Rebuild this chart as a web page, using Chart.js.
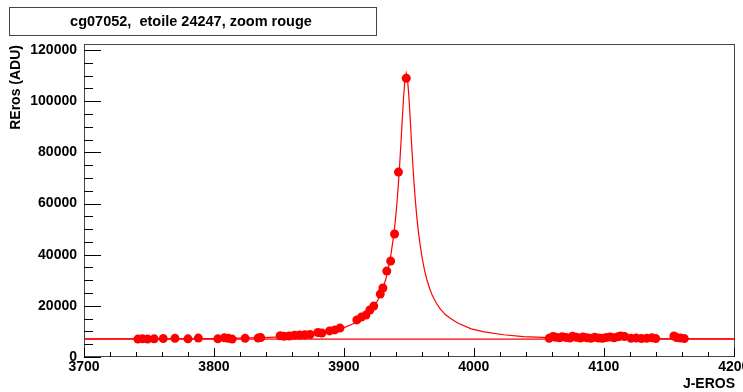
<!DOCTYPE html>
<html>
<head>
<meta charset="utf-8">
<title>cg07052, etoile 24247, zoom rouge</title>
<script src="https://cdn.jsdelivr.net/npm/chart.js@4.4.1/dist/chart.umd.min.js"></script>
<style>
  html, body { margin: 0; padding: 0; background: #fff; }
</style>
</head>
<body>
<canvas id="lightCurve" width="743" height="392"></canvas>
<script>
// observed points (J-EROS, flux in ADU)
const obsDays = [
  3741.5, 3745, 3749, 3754, 3761, 3770, 3780, 3788, 3803, 3808, 3811, 3814,
  3824, 3834, 3836, 3851, 3854, 3858, 3862, 3866, 3870, 3874, 3880, 3883,
  3889, 3893, 3897, 3910, 3913.5, 3917, 3920, 3923, 3928, 3930, 3933, 3936,
  3939, 3942, 3948,
  4058, 4061, 4063, 4066, 4068, 4071, 4074, 4076, 4079, 4082, 4084, 4087,
  4090, 4093, 4096, 4099, 4102, 4105, 4108, 4111, 4113, 4116, 4121, 4125,
  4129, 4133, 4137, 4140, 4154, 4156, 4159, 4162
];
const obsFlux = [
  7000, 7100, 7000, 7100, 7200, 7300, 7100, 7400, 7100, 7500, 7300, 7000,
  7300, 7400, 7600, 8300, 8100, 8200, 8500, 8600, 8700, 8800, 9600, 9400,
  10200, 10600, 11300, 14500, 15600, 16400, 18400, 19900, 24600, 27000, 33600, 37500,
  48100, 72300, 109000,
  7300, 8000, 7700, 7500, 7900, 7600, 7400, 8100, 7700, 7400, 7800, 7500,
  7300, 7700, 7400, 7300, 7600, 7800, 7500, 7900, 8200, 8000, 7300, 7400,
  7200, 7300, 7500, 7200, 8200, 7600, 7400, 7200
];

// fitted curve
const fitDays = [
  3700, 3798, 3838, 3858, 3873, 3888, 3898, 3908, 3913, 3918, 3922, 3925,
  3928, 3930, 3932, 3934, 3936, 3938, 3939, 3940, 3941, 3942, 3943, 3944,
  3945, 3946, 3947, 3948, 3949, 3950, 3951, 3952, 3953, 3954, 3955, 3956,
  3957, 3958, 3960, 3962, 3964, 3966, 3968, 3971, 3974, 3978, 3983, 3988,
  3998, 4008, 4023, 4038, 4058, 4098, 4201
];
const fitFlux = [
  7050, 7200, 7550, 8000, 8700, 9800, 11000, 13200, 14800, 16600, 18900, 21200,
  24100, 26800, 30000, 34100, 39400, 46300, 50500, 55500, 61300, 68000, 75800, 84400,
  93600, 102000, 108500, 111000, 108500, 102000, 93600, 84400, 75800, 68000, 61300, 55500,
  50500, 46300, 39400, 34100, 30000, 26800, 24100, 21200, 18900, 16600, 14800, 13200,
  11000, 9800, 8700, 8000, 7550, 7200, 7050
];

const baseline = 7000;
const xMin = 3700;
const xMax = 4201;
const yMin = 0;
const yMax = 122400;
const xTickLabels = [3700, 3800, 3900, 4000, 4100, 4200];
const yTickLabels = [0, 20000, 40000, 60000, 80000, 100000, 120000];

const titleText = "cg07052,  etoile 24247, zoom rouge";
const boldFont = "bold 14px 'Liberation Sans', Arial, sans-serif";

// ROOT-like frame, inward ticks, labels, title box and axis titles
const rootStyle = {
  id: "rootStyle",
  beforeDraw(chart) {
    const ctx = chart.ctx;
    ctx.save();
    ctx.fillStyle = "#fff";
    ctx.fillRect(0, 0, chart.width, chart.height);
    ctx.restore();
  },
  afterDraw(chart) {
    const { ctx, chartArea: a, scales: { x, y } } = chart;
    ctx.save();

    // frame
    ctx.strokeStyle = "#444";
    ctx.lineWidth = 1;
    ctx.strokeRect(a.left + 0.5, a.top + 0.5, a.right - a.left - 1, a.bottom - a.top - 1);

    // x ticks (every 20, major every 100)
    ctx.strokeStyle = "#000";
    ctx.beginPath();
    for (let v = xMin; v <= xMax; v += 20) {
      const px = Math.round(x.getPixelForValue(v)) + 0.5;
      const len = v % 100 === 0 ? 9 : 5;
      ctx.moveTo(px, a.bottom);
      ctx.lineTo(px, a.bottom - len);
    }
    // y ticks (every 5000, major every 20000)
    for (let v = yMin; v <= yMax; v += 5000) {
      const py = Math.round(y.getPixelForValue(v)) + 0.5;
      const len = v % 20000 === 0 ? 17 : 9;
      ctx.moveTo(a.left, py);
      ctx.lineTo(a.left + len, py);
    }
    ctx.stroke();

    ctx.fillStyle = "#000";
    ctx.font = boldFont;

    // x tick labels
    ctx.textAlign = "center";
    ctx.textBaseline = "top";
    xTickLabels.forEach(v => {
      ctx.fillText(String(v), x.getPixelForValue(v), a.bottom + 3);
    });

    // y tick labels
    ctx.textAlign = "right";
    ctx.textBaseline = "middle";
    yTickLabels.forEach(v => {
      ctx.fillText(String(v), a.left - 7, y.getPixelForValue(v));
    });

    // axis titles
    ctx.textAlign = "right";
    ctx.textBaseline = "alphabetic";
    ctx.fillText("J-EROS", a.right, 388);

    ctx.save();
    ctx.translate(20, a.top + 1);
    ctx.rotate(-Math.PI / 2);
    ctx.textAlign = "right";
    ctx.fillText("REros (ADU)", 0, 0);
    ctx.restore();

    // title box
    ctx.fillStyle = "#fff";
    ctx.fillRect(9, 7, 367, 28);
    ctx.strokeStyle = "#444";
    ctx.strokeRect(9.5, 7.5, 367, 28);
    ctx.fillStyle = "#000";
    ctx.font = "bold 14.5px 'Liberation Sans', Arial, sans-serif";
    ctx.textAlign = "center";
    ctx.textBaseline = "middle";
    ctx.fillText(titleText, 191, 22);

    ctx.restore();
  }
};

const obsPoints = obsDays.map((d, i) => ({ x: d, y: obsFlux[i] }));
const fitPoints = fitDays.map((d, i) => ({ x: d, y: fitFlux[i] }));
const basePoints = [{ x: xMin, y: baseline }, { x: xMax, y: baseline }];

// eslint-disable-next-line no-unused-vars
const lightCurveChart = new Chart(document.getElementById("lightCurve"), {
  type: "scatter",
  data: {
    datasets: [
      {
        label: "fit",
        data: fitPoints,
        showLine: true,
        borderColor: "#ff0000",
        borderWidth: 1.2,
        pointRadius: 0,
        tension: 0,
        order: 0
      },
      {
        label: "baseline",
        data: basePoints,
        showLine: true,
        borderColor: "#ff0000",
        borderWidth: 1.2,
        pointRadius: 0,
        order: 1
      },
      {
        label: "data",
        data: obsPoints,
        backgroundColor: "#ff0000",
        borderColor: "#ff0000",
        borderWidth: 0,
        pointRadius: 4.5,
        order: 2
      }
    ]
  },
  options: {
    responsive: false,
    devicePixelRatio: 1,
    animation: false,
    layout: { padding: { left: 0, top: 44, right: 8, bottom: 0 } },
    plugins: {
      legend: { display: false },
      tooltip: { enabled: false }
    },
    scales: {
      x: {
        type: "linear",
        min: xMin,
        max: xMax,
        grid: { display: false, drawTicks: false },
        border: { display: false },
        ticks: { display: false },
        afterFit: scale => {
          scale.height = 35;
        }
      },
      y: {
        type: "linear",
        min: yMin,
        max: yMax,
        grid: { display: false, drawTicks: false },
        border: { display: false },
        ticks: { display: false },
        afterFit: scale => {
          scale.width = 84;
        }
      }
    }
  },
  plugins: [rootStyle]
});
</script>
</body>
</html>
